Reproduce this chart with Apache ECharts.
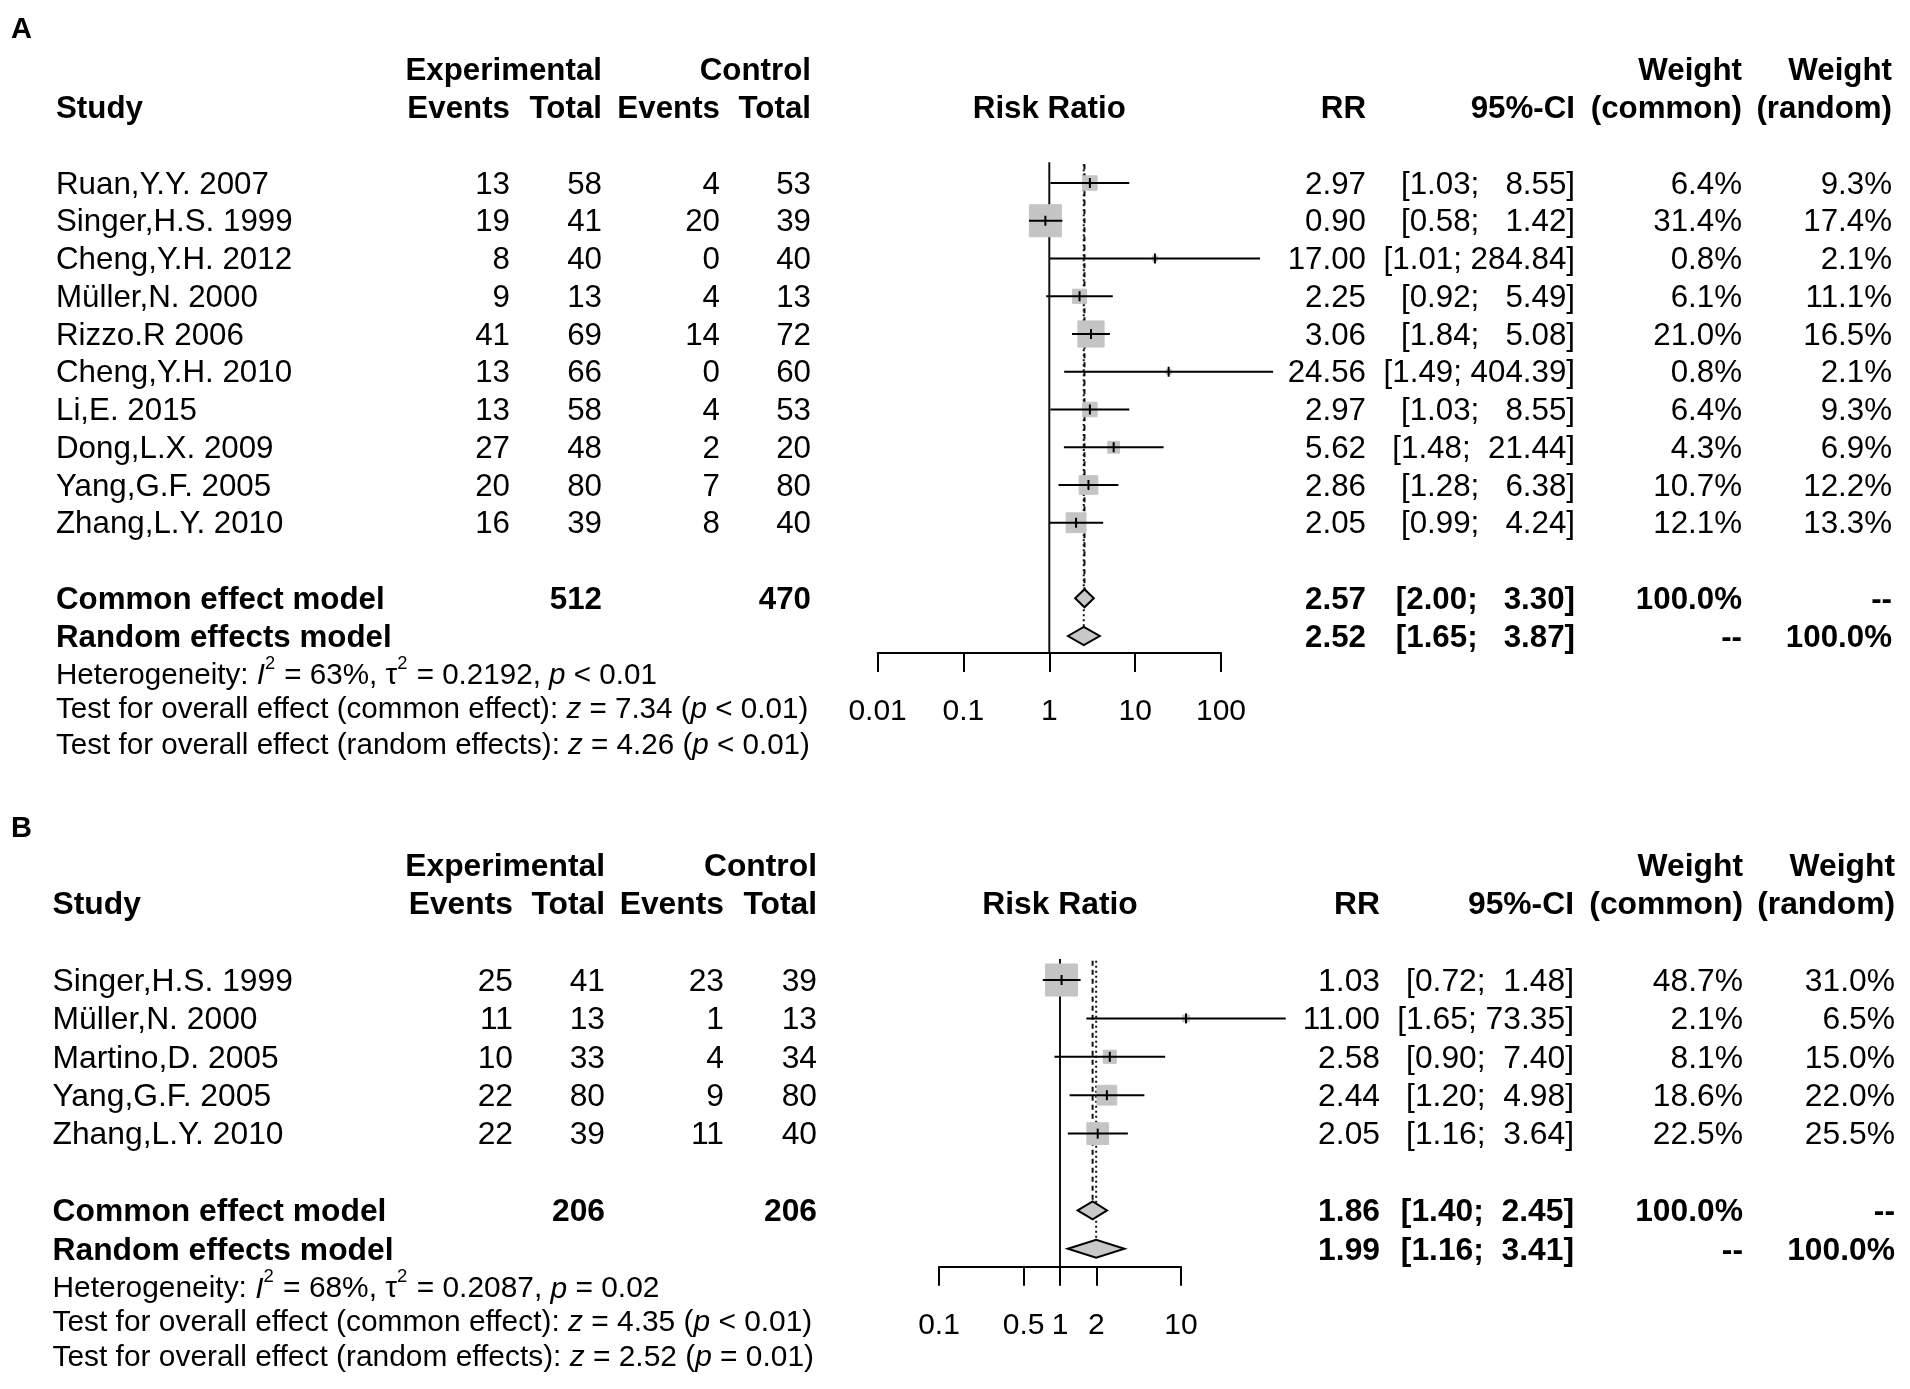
<!DOCTYPE html>
<html>
<head>
<meta charset="utf-8">
<title>Forest plots A / B</title>
<script src="https://cdn.jsdelivr.net/npm/echarts@6.0.0/dist/echarts.min.js"></script>
<style>
  html, body { margin: 0; padding: 0; background: #fff; }
  #chart { width: 1910px; height: 1389px; }
</style>
</head>
<body>
<div id="chart"></div>
<script>
// ---------- panel A ----------
const studiesA = ['Ruan,Y.Y. 2007', 'Singer,H.S. 1999', 'Cheng,Y.H. 2012', 'Müller,N. 2000', 'Rizzo.R 2006',
  'Cheng,Y.H. 2010', 'Li,E. 2015', 'Dong,L.X. 2009', 'Yang,G.F. 2005', 'Zhang,L.Y. 2010'];
const expEventsA = [13, 19, 8, 9, 41, 13, 13, 27, 20, 16];
const expTotalA = [58, 41, 40, 13, 69, 66, 58, 48, 80, 39];
const ctlEventsA = [4, 20, 0, 4, 14, 0, 4, 2, 7, 8];
const ctlTotalA = [53, 39, 40, 13, 72, 60, 53, 20, 80, 40];
const rrA = [2.97, 0.90, 17.00, 2.25, 3.06, 24.56, 2.97, 5.62, 2.86, 2.05];
const lowerA = [1.03, 0.58, 1.01, 0.92, 1.84, 1.49, 1.03, 1.48, 1.28, 0.99];
const upperA = [8.55, 1.42, 284.84, 5.49, 5.08, 404.39, 8.55, 21.44, 6.38, 4.24];
const wCommonA = [6.4, 31.4, 0.8, 6.1, 21.0, 0.8, 6.4, 4.3, 10.7, 12.1];
const wRandomA = [9.3, 17.4, 2.1, 11.1, 16.5, 2.1, 9.3, 6.9, 12.2, 13.3];
const commonA = [2.57, 2.00, 3.30];   // estimate, lower, upper
const randomA = [2.52, 1.65, 3.87];
const totalsA = [512, 470];
const ticksA = [0.01, 0.1, 1, 10, 100];
const hetA = 'Heterogeneity: {i|I}{s|2} = 63%, τ{s|2} = 0.2192, {i|p} < 0.01';
const testCommonA = 'Test for overall effect (common effect): {i|z} = 7.34 ({i|p} < 0.01)';
const testRandomA = 'Test for overall effect (random effects): {i|z} = 4.26 ({i|p} < 0.01)';

// ---------- panel B ----------
const studiesB = ['Singer,H.S. 1999', 'Müller,N. 2000', 'Martino,D. 2005', 'Yang,G.F. 2005', 'Zhang,L.Y. 2010'];
const expEventsB = [25, 11, 10, 22, 22];
const expTotalB = [41, 13, 33, 80, 39];
const ctlEventsB = [23, 1, 4, 9, 11];
const ctlTotalB = [39, 13, 34, 80, 40];
const rrB = [1.03, 11.00, 2.58, 2.44, 2.05];
const lowerB = [0.72, 1.65, 0.90, 1.20, 1.16];
const upperB = [1.48, 73.35, 7.40, 4.98, 3.64];
const wCommonB = [48.7, 2.1, 8.1, 18.6, 22.5];
const wRandomB = [31.0, 6.5, 15.0, 22.0, 25.5];
const commonB = [1.86, 1.40, 2.45];
const randomB = [1.99, 1.16, 3.41];
const totalsB = [206, 206];
const ticksB = [0.1, 0.5, 1, 2, 10];
const hetB = 'Heterogeneity: {i|I}{s|2} = 68%, τ{s|2} = 0.2087, {i|p} = 0.02';
const testCommonB = 'Test for overall effect (common effect): {i|z} = 4.35 ({i|p} < 0.01)';
const testRandomB = 'Test for overall effect (random effects): {i|z} = 2.52 ({i|p} = 0.01)';

// ---------- layout (pixels) ----------
const FONT = '"Liberation Sans", Arial, Helvetica, sans-serif';
const BOX = '#c4c4c4';
const DIAMOND = '#c8c8c8';

const layoutA = {
  letter: 'A', letterY: 30,
  top: 183, rowH: 37.75, fs: 31.3, fsFoot: 29.6, textDy: 2, footStep: 0.95,
  col: { study: 56, expEv: 510, expTot: 602, ctlEv: 720, ctlTot: 811, rr: 1366, ci: 1575, wc: 1742, wr: 1892 },
  plotLeft: 877.6, plotRight: 1221, axisRow: 12.45, maxBox: 32
};
const layoutB = {
  letter: 'B', letterY: 829,
  top: 980, rowH: 38.4, fs: 31.8, fsFoot: 29.9, textDy: 2, footStep: 0.92,
  col: { study: 52.5, expEv: 513, expTot: 605, ctlEv: 724, ctlTot: 817, rr: 1380, ci: 1574, wc: 1743, wr: 1895 },
  plotLeft: 939, plotRight: 1181, axisRow: 7.47, maxBox: 32
};

const measureCtx = document.createElement('canvas').getContext('2d');
function textWidth(str, size, bold, italic) {
  measureCtx.font = (italic ? 'italic ' : '') + (bold ? 'bold ' : '') + size + 'px ' + FONT;
  return measureCtx.measureText(str).width;
}

function ciLabels(lower, upper) {
  const lo = lower.map(v => v.toFixed(2));
  const up = upper.map(v => v.toFixed(2));
  const wl = Math.max(...lo.map(s => s.length));
  const wu = Math.max(...up.map(s => s.length));
  return lo.map((s, i) => '[' + s.padStart(wl) + '; ' + up[i].padStart(wu) + ']');
}

// split "{i|x}" / "{s|x}" markup into pieces
function parseRuns(str) {
  const out = [];
  const re = /\{(i|s)\|([^}]*)\}/g;
  let last = 0, m;
  while ((m = re.exec(str))) {
    if (m.index > last) out.push({ t: str.slice(last, m.index) });
    out.push({ t: m[2], italic: m[1] === 'i', sup: m[1] === 's' });
    last = re.lastIndex;
  }
  if (last < str.length) out.push({ t: str.slice(last) });
  return out;
}

function buildPanel(d, L, idx) {
  const n = d.studies.length;
  const rowCommon = n + 1, rowRandom = n + 2;
  const c = L.col;
  const plotMid = (L.plotLeft + L.plotRight) / 2;

  // pooled rows get the same CI padding as study rows
  const ciAll = ciLabels(d.lower.concat([d.common[1], d.random[1]]), d.upper.concat([d.common[2], d.random[2]]));
  const pct = v => v.toFixed(1) + '%';

  const cells = [];
  const cell = (x, row, text, align, bold) => cells.push({ x, row, text: String(text), align, bold, dy: L.textDy });
  cell(c.expTot, -3, 'Experimental', 'right', true);
  cell(c.ctlTot, -3, 'Control', 'right', true);
  cell(c.wc, -3, 'Weight', 'right', true);
  cell(c.wr, -3, 'Weight', 'right', true);
  cell(c.study, -2, 'Study', 'left', true);
  cell(c.expEv, -2, 'Events', 'right', true);
  cell(c.expTot, -2, 'Total', 'right', true);
  cell(c.ctlEv, -2, 'Events', 'right', true);
  cell(c.ctlTot, -2, 'Total', 'right', true);
  cell(plotMid, -2, 'Risk Ratio', 'center', true);
  cell(c.rr, -2, 'RR', 'right', true);
  cell(c.ci, -2, '95%-CI', 'right', true);
  cell(c.wc, -2, '(common)', 'right', true);
  cell(c.wr, -2, '(random)', 'right', true);
  d.studies.forEach((s, i) => {
    cell(c.study, i, s, 'left', false);
    cell(c.expEv, i, d.expEvents[i], 'right', false);
    cell(c.expTot, i, d.expTotal[i], 'right', false);
    cell(c.ctlEv, i, d.ctlEvents[i], 'right', false);
    cell(c.ctlTot, i, d.ctlTotal[i], 'right', false);
    cell(c.rr, i, d.rr[i].toFixed(2), 'right', false);
    cell(c.ci, i, ciAll[i], 'right', false);
    cell(c.wc, i, pct(d.wCommon[i]), 'right', false);
    cell(c.wr, i, pct(d.wRandom[i]), 'right', false);
  });
  cell(c.study, rowCommon, 'Common effect model', 'left', true);
  cell(c.expTot, rowCommon, d.totals[0], 'right', true);
  cell(c.ctlTot, rowCommon, d.totals[1], 'right', true);
  cell(c.rr, rowCommon, d.common[0].toFixed(2), 'right', true);
  cell(c.ci, rowCommon, ciAll[n], 'right', true);
  cell(c.wc, rowCommon, '100.0%', 'right', true);
  cell(c.wr, rowCommon, '--', 'right', true);
  cell(c.study, rowRandom, 'Random effects model', 'left', true);
  cell(c.rr, rowRandom, d.random[0].toFixed(2), 'right', true);
  cell(c.ci, rowRandom, ciAll[n + 1], 'right', true);
  cell(c.wc, rowRandom, '--', 'right', true);
  cell(c.wr, rowRandom, '100.0%', 'right', true);
  const footers = [d.het, d.testCommon, d.testRandom];
  footers.forEach((f, k) => cells.push({
    x: c.study, row: rowRandom + 1 + k * L.footStep, runs: parseRuns(f), dy: k === 0 ? L.textDy : 0
  }));

  const wMax = Math.max(...d.wCommon);
  const refTop = -0.55;
  const dh = 9; // diamond half height

  const fmtTick = v => String(+Number(v).toPrecision(3));

  const grid = {
    left: L.plotLeft, width: L.plotRight - L.plotLeft,
    top: L.top - 4 * L.rowH, height: (L.axisRow + 4) * L.rowH,
    containLabel: false, outerBoundsMode: 'none'
  };
  const xAxis = {
    gridIndex: idx, type: 'log', logBase: 10, min: d.ticks[0], max: d.ticks[d.ticks.length - 1],
    position: 'bottom',
    axisLine: { show: true, onZero: false, lineStyle: { color: '#000', width: 2 } },
    axisTick: { show: true, length: 19, customValues: d.ticks, lineStyle: { color: '#000', width: 2 } },
    axisLabel: { show: true, customValues: d.ticks, margin: 44, color: '#000', fontSize: 30,
      fontFamily: FONT, formatter: fmtTick },
    splitLine: { show: false }, minorTick: { show: false }, minorSplitLine: { show: false }
  };
  const yAxis = { gridIndex: idx, type: 'value', min: -4, max: L.axisRow, inverse: true, show: false };

  const series = [];
  // reference line at RR = 1 and pooled-effect lines
  series.push({
    type: 'custom', xAxisIndex: idx, yAxisIndex: idx, silent: true, clip: false, z: 1,
    data: [[1, 0], [d.common[0], 1], [d.random[0], 2]],
    renderItem(params, api) {
      const kind = api.value(1);
      const yEnd = kind === 0 ? L.axisRow : (kind === 1 ? rowCommon : rowRandom);
      const p0 = api.coord([api.value(0), kind === 0 ? refTop : -0.5]);
      const p1 = api.coord([api.value(0), yEnd]);
      return {
        type: 'line',
        shape: { x1: p0[0], y1: p0[1], x2: p1[0], y2: kind === 0 ? p1[1] : p1[1] - dh },
        style: {
          stroke: '#111', lineWidth: 2,
          lineDash: kind === 0 ? null : (kind === 1 ? [5, 4] : [2, 3])
        }
      };
    }
  });
  // studies: box, CI line, estimate tick
  series.push({
    type: 'custom', xAxisIndex: idx, yAxisIndex: idx, silent: true, clip: false, z: 2,
    data: d.rr.map((v, i) => [v, i, d.lower[i], d.upper[i], d.wCommon[i]]),
    renderItem(params, api) {
      const row = api.value(1);
      const p = api.coord([api.value(0), row]);
      const lo = api.coord([api.value(2), row]);
      const hi = api.coord([api.value(3), row]);
      const side = L.maxBox * Math.sqrt(api.value(4) / wMax);
      return {
        type: 'group',
        children: [
          { type: 'rect', shape: { x: p[0] - side / 2, y: p[1] - side / 2, width: side, height: side },
            style: { fill: BOX, stroke: BOX, lineWidth: 1 } },
          { type: 'line', shape: { x1: lo[0], y1: p[1], x2: hi[0], y2: p[1] },
            style: { stroke: '#000', lineWidth: 2 } },
          { type: 'line', shape: { x1: p[0], y1: p[1] - 5, x2: p[0], y2: p[1] + 5 },
            style: { stroke: '#000', lineWidth: 2 } }
        ]
      };
    }
  });
  // pooled diamonds
  series.push({
    type: 'custom', xAxisIndex: idx, yAxisIndex: idx, silent: true, clip: false, z: 3,
    data: [[d.common[0], rowCommon, d.common[1], d.common[2]], [d.random[0], rowRandom, d.random[1], d.random[2]]],
    renderItem(params, api) {
      const row = api.value(1);
      const p = api.coord([api.value(0), row]);
      const lo = api.coord([api.value(2), row]);
      const hi = api.coord([api.value(3), row]);
      return {
        type: 'polygon',
        shape: { points: [[lo[0], p[1]], [p[0], p[1] - dh], [hi[0], p[1]], [p[0], p[1] + dh]] },
        style: { fill: DIAMOND, stroke: '#000', lineWidth: 2 }
      };
    }
  });
  // table text
  series.push({
    type: 'custom', xAxisIndex: idx, yAxisIndex: idx, silent: true, clip: false, z: 4,
    data: cells.map(cl => [1, cl.row]),
    renderItem(params, api) {
      const cl = cells[params.dataIndex];
      const y = api.coord([1, api.value(1)])[1] + cl.dy;
      if (!cl.runs) {
        return {
          type: 'text', x: cl.x, y: y,
          style: { text: cl.text, fill: '#000', fontSize: L.fs, fontFamily: FONT,
            fontWeight: cl.bold ? 'bold' : 'normal', align: cl.align, verticalAlign: 'middle' }
        };
      }
      const children = [];
      let x = cl.x;
      cl.runs.forEach(r => {
        const size = r.sup ? L.fsFoot * 0.62 : L.fsFoot;
        children.push({
          type: 'text', x: x, y: r.sup ? y - L.fsFoot * 0.4 : y,
          style: { text: r.t, fill: '#000', fontSize: size, fontFamily: FONT,
            fontStyle: r.italic ? 'italic' : 'normal', align: 'left', verticalAlign: 'middle' }
        });
        x += textWidth(r.t, size, false, r.italic) + (r.sup ? 1 : 0);
      });
      return { type: 'group', children };
    }
  });

  return { grid, xAxis, yAxis, series };
}

const panelA = buildPanel({
  studies: studiesA, expEvents: expEventsA, expTotal: expTotalA, ctlEvents: ctlEventsA, ctlTotal: ctlTotalA,
  rr: rrA, lower: lowerA, upper: upperA, wCommon: wCommonA, wRandom: wRandomA,
  common: commonA, random: randomA, totals: totalsA, ticks: ticksA,
  het: hetA, testCommon: testCommonA, testRandom: testRandomA
}, layoutA, 0);
const panelB = buildPanel({
  studies: studiesB, expEvents: expEventsB, expTotal: expTotalB, ctlEvents: ctlEventsB, ctlTotal: ctlTotalB,
  rr: rrB, lower: lowerB, upper: upperB, wCommon: wCommonB, wRandom: wRandomB,
  common: commonB, random: randomB, totals: totalsB, ticks: ticksB,
  het: hetB, testCommon: testCommonB, testRandom: testRandomB
}, layoutB, 1);

const chart = echarts.init(document.getElementById('chart'), null, { renderer: 'canvas' });
chart.setOption({
  backgroundColor: '#fff',
  animation: false,
  grid: [panelA.grid, panelB.grid],
  xAxis: [panelA.xAxis, panelB.xAxis],
  yAxis: [panelA.yAxis, panelB.yAxis],
  series: panelA.series.concat(panelB.series),
  graphic: [layoutA, layoutB].map(L => ({
    type: 'text', x: 11, y: L.letterY, silent: true,
    style: { text: L.letter, fill: '#000', fontSize: 29, fontWeight: 'bold', fontFamily: FONT,
      align: 'left', verticalAlign: 'middle' }
  }))
});
</script>
</body>
</html>
